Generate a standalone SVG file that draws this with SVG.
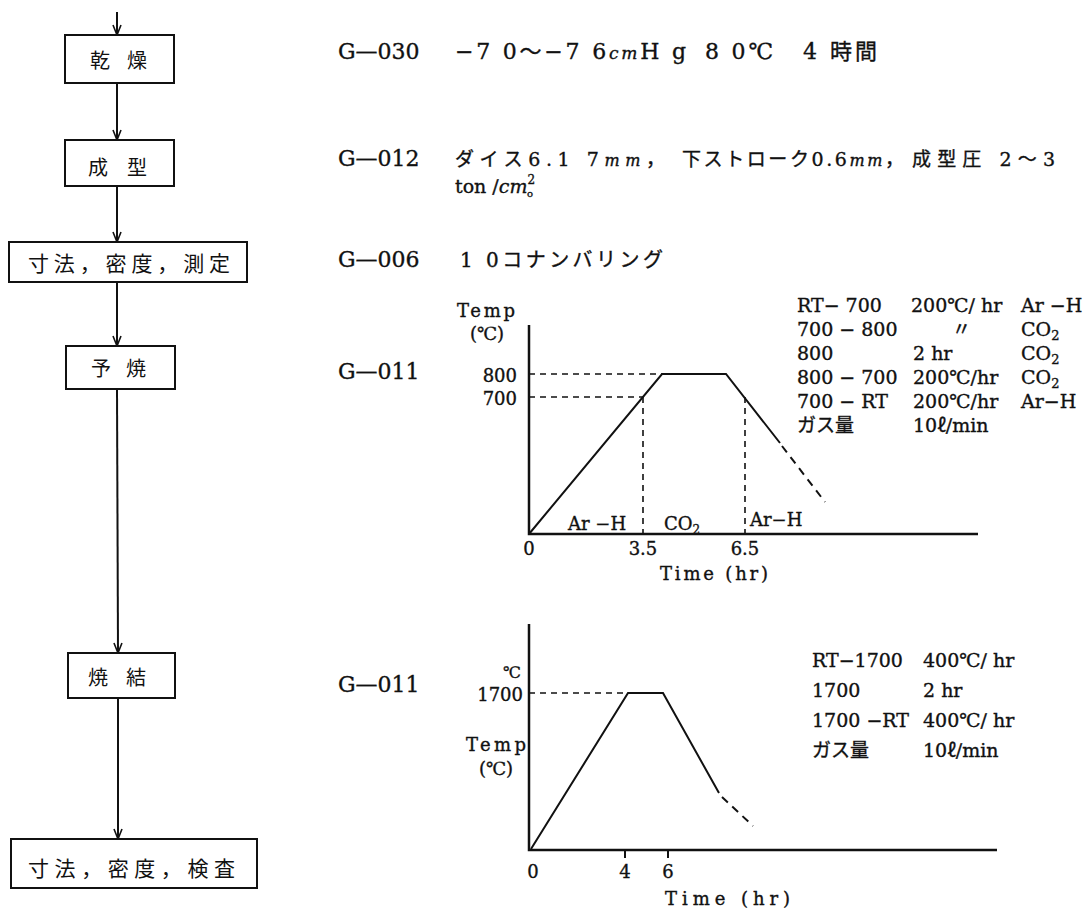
<svg xmlns="http://www.w3.org/2000/svg" width="1087" height="912" viewBox="0 0 1087 912">
<style>
.s{font-family:"DejaVu Serif","Noto Sans CJK JP",serif;fill:#111;stroke:#111;stroke-width:0.35}
.j{font-family:"Noto Sans CJK JP",sans-serif;fill:#111}
.box{fill:#fff;stroke:#111;stroke-width:2}
.ln{fill:none;stroke:#111;stroke-width:2}
.ax{fill:none;stroke:#111;stroke-width:2.5}
.ds{fill:none;stroke:#111;stroke-width:1.6;stroke-dasharray:6 5}
.dc{fill:none;stroke:#111;stroke-width:2;stroke-dasharray:8 6}
</style>
<defs>
<marker id="arr" viewBox="-11 -5 12 10" refX="0" refY="0" markerWidth="12" markerHeight="10" orient="auto" markerUnits="userSpaceOnUse">
<path d="M-10,-4 L0,0 L-10,4" fill="none" stroke="#111" stroke-width="1.6"/>
</marker>
</defs>
<rect width="1087" height="912" fill="#fff"/>

<g id="connectors">
<line class="ln" x1="117" y1="12" x2="117" y2="35" marker-end="url(#arr)"/>
<line class="ln" x1="117" y1="83" x2="117" y2="140" marker-end="url(#arr)"/>
<line class="ln" x1="117" y1="186" x2="117" y2="242" marker-end="url(#arr)"/>
<line class="ln" x1="117" y1="282" x2="117" y2="346" marker-end="url(#arr)"/>
<line class="ln" x1="117" y1="389" x2="118" y2="653" marker-end="url(#arr)"/>
<line class="ln" x1="118" y1="698" x2="118" y2="839" marker-end="url(#arr)"/>
</g>

<g id="n-kanso">
<rect class="box" x="65" y="35" width="109" height="48"/>
<text class="j" y="68" font-size="20"><tspan x="90">乾</tspan><tspan x="127">燥</tspan></text>
</g>
<g id="n-seikei">
<rect class="box" x="65" y="140" width="109" height="46"/>
<text class="j" y="175" font-size="20"><tspan x="88">成</tspan><tspan x="127">型</tspan></text>
</g>
<g id="n-sokutei">
<rect class="box" x="9" y="242" width="238" height="40"/>
<text class="j" x="28" y="271" font-size="21" textLength="202" lengthAdjust="spacing">寸法，密度，測定</text>
</g>
<g id="n-yosho">
<rect class="box" x="66" y="346" width="109" height="43"/>
<text class="j" y="376" font-size="20"><tspan x="91">予</tspan><tspan x="126">焼</tspan></text>
</g>
<g id="n-shoketsu">
<rect class="box" x="68" y="653" width="107" height="45"/>
<text class="j" y="685" font-size="20"><tspan x="88">焼</tspan><tspan x="126">結</tspan></text>
</g>
<g id="n-kensa">
<rect class="box" x="11" y="839" width="246" height="49"/>
<text class="j" x="28" y="876" font-size="21" textLength="207" lengthAdjust="spacing">寸法，密度，検査</text>
</g>

<g id="spec-text">
<text class="s" x="338" y="59" font-size="22">G—030</text>
<text class="s" x="455" y="59" font-size="22" textLength="231" lengthAdjust="spacing">−7 0〜−7 6<tspan font-size="17" font-style="italic">cm</tspan>H g</text>
<text class="s" x="705" y="59" font-size="22" textLength="68" lengthAdjust="spacing">8 0℃</text>
<text class="s" x="803" y="59" font-size="22" textLength="74" lengthAdjust="spacing">4 時間</text>

<text class="s" x="338" y="166" font-size="22">G—012</text>
<text class="s" x="455" y="166" font-size="19" textLength="210" lengthAdjust="spacing">ダイス6.1 7<tspan font-style="italic" font-size="16">mm</tspan>，</text>
<text class="s" x="682" y="166" font-size="19" textLength="222" lengthAdjust="spacing">下ストローク0.6<tspan font-style="italic" font-size="16">mm</tspan>，</text>
<text class="s" x="912" y="166" font-size="19" textLength="143" lengthAdjust="spacing">成型圧 2〜3</text>
<text class="s" x="455" y="193" font-size="19">ton ∕<tspan font-style="italic">cm</tspan><tspan font-size="12" dy="-9">2</tspan><tspan font-size="10" dx="-8" dy="13">o</tspan></text>

<text class="s" x="338" y="267" font-size="22">G—006</text>
<text class="s" x="460" y="267" font-size="20" textLength="203" lengthAdjust="spacing">1 0コナンバリング</text>

<text class="s" x="338" y="379" font-size="22">G—011</text>
<text class="s" x="338" y="692" font-size="22">G—011</text>
</g>

<g id="chart1">
<line class="ds" x1="529" y1="374" x2="662" y2="374"/>
<line class="ds" x1="529" y1="397" x2="643" y2="397"/>
<line class="ds" x1="643" y1="397" x2="643" y2="534"/>
<line class="ds" x1="745" y1="397" x2="745" y2="534"/>
<polyline class="ax" points="529,325 529,534 978,534"/>
<polyline class="ln" points="529,534 662,374 726,374 780,443"/>
<line class="dc" x1="782" y1="446" x2="825" y2="502"/>
<text class="s" x="457" y="317" font-size="18" textLength="58" lengthAdjust="spacing">Temp</text>
<text class="s" x="487" y="340" font-size="18" text-anchor="middle">(℃)</text>
<text class="s" x="517" y="382" font-size="18" text-anchor="end">800</text>
<text class="s" x="517" y="405" font-size="18" text-anchor="end">700</text>
<text class="s" x="568" y="530" font-size="18">Ar −H</text>
<text class="s" x="664" y="530" font-size="18">CO<tspan font-size="12" dy="4">2</tspan></text>
<text class="s" x="750" y="526" font-size="18">Ar−H</text>
<text class="s" x="529" y="555" font-size="18" text-anchor="middle">0</text>
<text class="s" x="643" y="555" font-size="18" text-anchor="middle">3.5</text>
<text class="s" x="745" y="555" font-size="18" text-anchor="middle">6.5</text>
<text class="s" x="660" y="580" font-size="18" textLength="108" lengthAdjust="spacing">Time (hr)</text>
</g>

<g id="legend1" font-size="19">
<text class="s" y="312"><tspan x="797">RT−  700</tspan><tspan x="911">200℃∕ hr</tspan><tspan x="1021">Ar −H</tspan></text>
<text class="s" y="336"><tspan x="797">700 − 800</tspan><tspan x="952">〃</tspan><tspan x="1021">CO</tspan><tspan font-size="13" dy="4">2</tspan></text>
<text class="s" y="360"><tspan x="797">800</tspan><tspan x="913">2 hr</tspan><tspan x="1021">CO</tspan><tspan font-size="13" dy="4">2</tspan></text>
<text class="s" y="384"><tspan x="797">800 −  700</tspan><tspan x="913">200℃∕hr</tspan><tspan x="1021">CO</tspan><tspan font-size="13" dy="4">2</tspan></text>
<text class="s" y="408"><tspan x="797">700 − RT</tspan><tspan x="913">200℃∕hr</tspan><tspan x="1021">Ar−H</tspan></text>
<text class="s" y="432"><tspan x="797">ガス量</tspan><tspan x="913">10ℓ∕min</tspan></text>
</g>

<g id="chart2">
<line class="ds" x1="529" y1="693" x2="628" y2="693"/>
<polyline class="ax" points="529,624 529,850 997,850"/>
<polyline class="ln" points="531,849 628,693 663,693 719,793"/>
<line class="dc" x1="722" y1="797" x2="753" y2="826"/>
<line class="ln" x1="625" y1="851" x2="625" y2="858" stroke-width="1.5"/>
<line class="ln" x1="668" y1="851" x2="668" y2="858" stroke-width="1.5"/>
<text class="s" x="512" y="678" font-size="16" text-anchor="middle">℃</text>
<text class="s" x="523" y="701" font-size="18" text-anchor="end">1700</text>
<text class="s" x="466" y="751" font-size="18" textLength="60" lengthAdjust="spacing">Temp</text>
<text class="s" x="496" y="775" font-size="18" text-anchor="middle">(℃)</text>
<text class="s" x="533" y="878" font-size="18" text-anchor="middle">0</text>
<text class="s" x="625" y="878" font-size="18" text-anchor="middle">4</text>
<text class="s" x="668" y="878" font-size="18" text-anchor="middle">6</text>
<text class="s" x="665" y="905" font-size="18" textLength="125" lengthAdjust="spacing">Time (hr)</text>
</g>

<g id="legend2" font-size="19">
<text class="s" y="667"><tspan x="812">RT−1700</tspan><tspan x="923">400℃∕ hr</tspan></text>
<text class="s" y="697"><tspan x="812">1700</tspan><tspan x="923">2 hr</tspan></text>
<text class="s" y="727"><tspan x="812">1700 −RT</tspan><tspan x="923">400℃∕ hr</tspan></text>
<text class="s" y="757"><tspan x="812">ガス量</tspan><tspan x="923">10ℓ∕min</tspan></text>
</g>
</svg>
